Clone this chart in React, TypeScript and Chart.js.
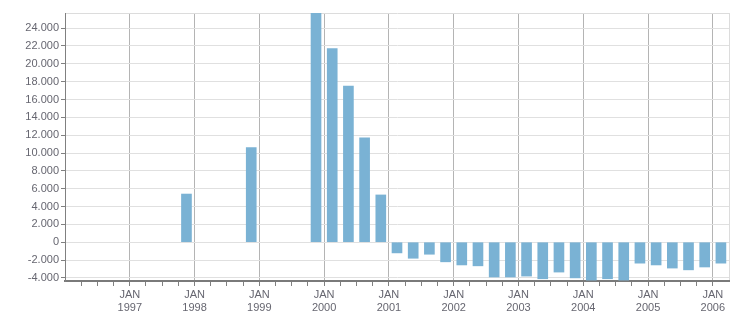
import React, { useEffect, useRef } from "react";
import { Chart, registerables } from "chart.js";

Chart.register(...registerables);

// Quarterly periods (year, quarter) and values
const periods: string[] = [
  "1997-Q4", "1998-Q4", "1999-Q4",
  "2000-Q1", "2000-Q2", "2000-Q3", "2000-Q4",
  "2001-Q1", "2001-Q2", "2001-Q3", "2001-Q4",
  "2002-Q1", "2002-Q2", "2002-Q3", "2002-Q4",
  "2003-Q1", "2003-Q2", "2003-Q3", "2003-Q4",
  "2004-Q1", "2004-Q2", "2004-Q3", "2004-Q4",
  "2005-Q1", "2005-Q2", "2005-Q3", "2005-Q4",
  "2006-Q1",
];
const values: number[] = [
  5400, 10600, 25700,
  21700, 17500, 11700, 5300,
  -1200, -1800, -1350, -2200,
  -2550, -2650, -3900, -3900,
  -3800, -4100, -3350, -4000,
  -4250, -4100, -4250, -2350,
  -2550, -2900, -3100, -2780,
  -2350,
];
const yearLabels: string[] = ["1997", "1998", "1999", "2000", "2001", "2002", "2003", "2004", "2005", "2006"];
const monthLabel = "JAN";
const yTickValues: number[] = [-4000, -2000, 0, 2000, 4000, 6000, 8000, 10000, 12000, 14000, 16000, 18000, 20000, 22000, 24000];
const startYear = 1996;
const totalQuarters = 41;
const yMin = -4350;
const yMax = 25700;

const toX = (p: string) => {
  const [y, q] = p.split("-Q");
  return (parseInt(y, 10) - startYear) * 4 + (parseInt(q, 10) - 1) + 0.5;
};

const fmt = (v: number) => {
  const s = Math.abs(v).toString().replace(/\B(?=(\d{3})+(?!\d))/g, ".");
  return (v < 0 ? "-" : "") + s;
};

export default function App() {
  const ref = useRef<HTMLCanvasElement>(null);
  useEffect(() => {
    if (!ref.current) return;
    const font = { family: "'Liberation Sans', Arial, sans-serif", size: 11 };
    const isYTick = (v: number) => yTickValues.includes(v);
    const chart = new Chart(ref.current, {
      type: "bar",
      data: {
        datasets: [
          {
            data: periods.map((p, i) => ({ x: toX(p), y: values[i] })),
            backgroundColor: "#7ab2d4",
            borderWidth: 0,
            barThickness: 10,
          },
        ],
      },
      options: {
        responsive: true,
        maintainAspectRatio: false,
        animation: false,
        layout: { padding: { top: 13, right: 22, left: 0, bottom: 0 } },
        plugins: { legend: { display: false }, tooltip: { enabled: false } },
        scales: {
          x: {
            type: "linear",
            min: 0,
            max: totalQuarters,
            offset: false,
            afterFit: (s: any) => { s.height = 32; },
            grid: {
              offset: false,
              color: (c: any) => {
                const v = c.tick?.value;
                if (v === totalQuarters) return "#dcdcdc";
                if (v > 0 && v % 4 === 0) return "#b4b4b4";
                return "rgba(0,0,0,0)";
              },
              tickColor: (c: any) => {
                const v = c.tick?.value;
                if (v === 0 || v === totalQuarters) return "rgba(0,0,0,0)";
                return "#808080";
              },
              tickLength: 5,
            },
            border: { color: "#7a7a7a", width: 2 },
            ticks: {
              stepSize: 1,
              maxTicksLimit: 100,
              autoSkip: false,
              maxRotation: 0,
              minRotation: 0,
              padding: 2,
              color: "#666670",
              font: { ...font, lineHeight: 1.2 },
              callback: (v: any) => {
                const n = Number(v);
                if (n > 0 && n % 4 === 0) {
                  const y = yearLabels[n / 4 - 1];
                  return y ? [monthLabel, y] : "";
                }
                return "";
              },
            },
          },
          y: {
            min: yMin,
            max: yMax,
            afterFit: (s: any) => { s.width = 65; },
            afterBuildTicks: (s: any) => {
              s.ticks = [yMin, ...yTickValues, yMax].map((v) => ({ value: v }));
            },
            grid: {
              color: (c: any) => {
                const v = c.tick?.value;
                if (v === yMax) return "#dcdcdc";
                if (isYTick(v)) return "#e0e0e0";
                return "rgba(0,0,0,0)";
              },
              tickColor: (c: any) => (isYTick(c.tick?.value) ? "#808080" : "rgba(0,0,0,0)"),
              tickLength: 4,
            },
            border: { color: "#808080", width: 1 },
            ticks: {
              autoSkip: false,
              padding: 2,
              color: "#666670",
              font,
              callback: (v: any) => {
                const n = Number(v);
                return isYTick(n) ? fmt(n) : "";
              },
            },
          },
        },
      },
    });
    return () => chart.destroy();
  }, []);
  return (
    <div style={{ position: "absolute", left: 0, top: 0, width: 751, height: 313, background: "#fff" }}>
      <canvas ref={ref} />
    </div>
  );
}
